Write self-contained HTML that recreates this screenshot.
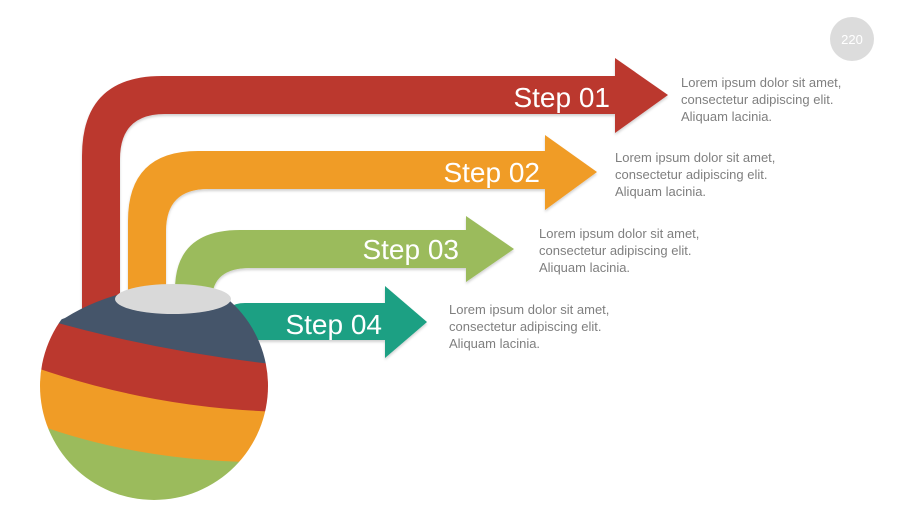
<!DOCTYPE html>
<html><head><meta charset="utf-8"><style>
html,body{margin:0;padding:0;background:#fff;}
svg{display:block;}
text{font-family:"Liberation Sans",sans-serif;}
</style></head><body>
<svg width="900" height="506" viewBox="0 0 900 506" xmlns="http://www.w3.org/2000/svg">
<defs>
<filter id="sh" x="-10%" y="-10%" width="120%" height="130%"><feDropShadow dx="0" dy="2" stdDeviation="1.2" flood-color="#000" flood-opacity="0.18"/></filter>
<clipPath id="ball"><circle cx="154" cy="386" r="114"/></clipPath>
</defs>
<circle cx="852" cy="39" r="22" fill="#dcdcdc"/>
<text x="852" y="44" font-size="13" fill="#fff" text-anchor="middle">220</text>

<path filter="url(#sh)" fill="#bb372f" d="M82 330 L82 156 Q82 76 162 76 L615 76 L615 58 L668 95 L615 133 L615 114 L165 114 Q120 114 120 159 L120 330 Z"/>
<path filter="url(#sh)" fill="#f09c28" d="M128 330 L128 221 Q128 151 198 151 L545 151 L545 135 L597 172 L545 210 L545 189 L208 189 Q166 189 166 231 L166 330 Z"/>
<path filter="url(#sh)" fill="#9bbb5c" d="M175 300 L175 290 Q175 230 240 230 L466 230 L466 216 L514 249 L466 282 L466 268 L250 268 Q212 268 212 300 Z"/>
<path filter="url(#sh)" fill="#1fa083" d="M225 340 L225 320 Q225 303 245 303 L385 303 L385 286 L427 322 L385 358 L385 340 Z"/>

<g clip-path="url(#ball)" filter="url(#sh)">
<path fill="#44546a" d="M20 335 L65 318 Q110 290 172 285 Q222 288 245 308 L290 330 L290 400 L20 400 Z"/>
<path fill="#bb372f" d="M20 312 Q150 352 290 366 L290 520 L20 520 Z"/>
<path fill="#f09c28" d="M20 362 Q150 410 290 412 L290 520 L20 520 Z"/>
<path fill="#9bbb5c" d="M20 418 Q140 466 290 462 L290 520 L20 520 Z"/>
</g>
<ellipse cx="173" cy="299" rx="58" ry="15" fill="#d9d9d9"/>

<text x="610" y="107" font-size="28" fill="#fff" text-anchor="end">Step 01</text>
<text x="540" y="182" font-size="28" fill="#fff" text-anchor="end">Step 02</text>
<text x="459" y="259" font-size="28" fill="#fff" text-anchor="end">Step 03</text>
<text x="382" y="334" font-size="28" fill="#fff" text-anchor="end">Step 04</text>

<g font-size="13" fill="#7f7f7f">
<text x="681" y="87">Lorem ipsum dolor sit amet,</text>
<text x="681" y="104">consectetur adipiscing elit.</text>
<text x="681" y="121">Aliquam lacinia.</text>
<text x="615" y="162">Lorem ipsum dolor sit amet,</text>
<text x="615" y="179">consectetur adipiscing elit.</text>
<text x="615" y="196">Aliquam lacinia.</text>
<text x="539" y="238">Lorem ipsum dolor sit amet,</text>
<text x="539" y="255">consectetur adipiscing elit.</text>
<text x="539" y="272">Aliquam lacinia.</text>
<text x="449" y="314">Lorem ipsum dolor sit amet,</text>
<text x="449" y="331">consectetur adipiscing elit.</text>
<text x="449" y="348">Aliquam lacinia.</text>
</g>
</svg>
</body></html>
